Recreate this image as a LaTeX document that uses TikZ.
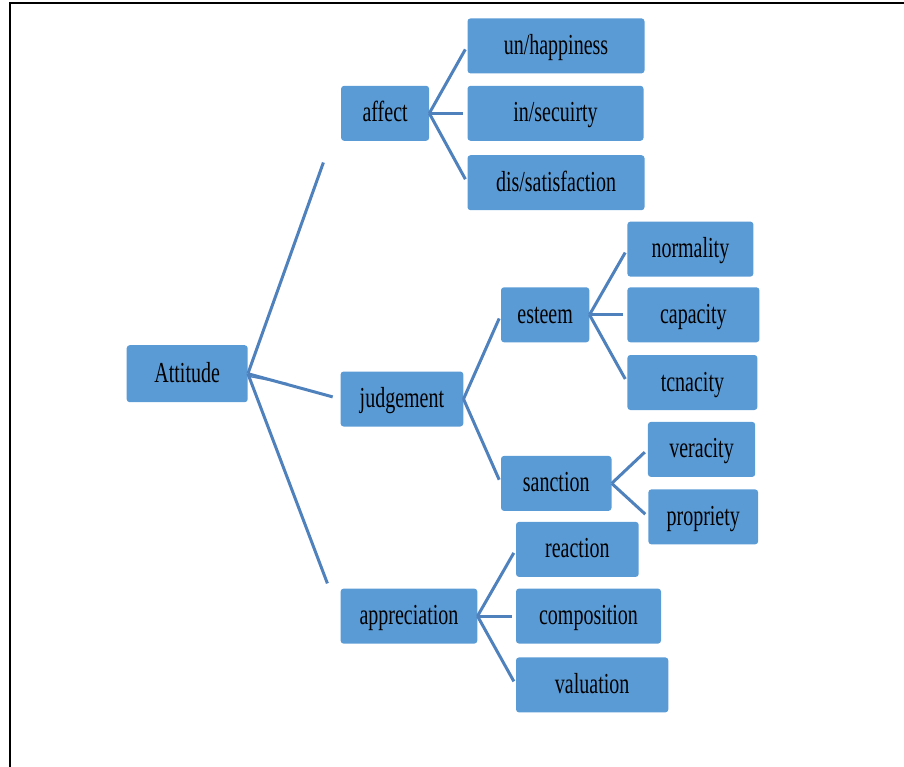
\documentclass[tikz,border=0pt]{standalone}
\usepackage{fontspec}
\setmainfont{Liberation Serif}
\usetikzlibrary{positioning}
\definecolor{boxblue}{HTML}{5B9BD5}
\definecolor{lineblue}{HTML}{4F81BD}
\newcommand{\tall}[1]{\scalebox{1}[1.45]{#1}}
\tikzset{
  box/.style={rectangle, rounded corners=3pt, fill=boxblue, minimum height=55pt, inner sep=0pt, text height=22pt, text depth=5pt, font=\fontsize{20}{24}\selectfont},
  link/.style={draw=lineblue, line width=3pt, shorten >=4pt},
  frame/.style={draw=black, line width=2.6pt},
}
\begin{document}
\begin{tikzpicture}[x=1pt, y=1pt]
        \useasboundingbox (0,0) rectangle (904,-767);
        \draw[frame] (904,-3) -- (10,-3) -- (10,-767);
        \node[box, minimum width=121pt, minimum height=57pt] (att) at (187.2,-373.7) {\tall{Attitude}};
        \node[box, minimum width=88pt, above right=204pt and 93pt of att] (affect) {\tall{affect}};
        \node[box, minimum width=122.7pt, right=92.5pt of att, yshift=-25.3pt] (judgement) {\tall{judgement}};
        \node[box, minimum width=136.7pt, below right=186pt and 92.5pt of att] (appreciation) {\tall{appreciation}};
        % affect
        \node[box, minimum width=177pt, above right=12pt and 38pt of affect] (unh) {\tall{un/happiness}};
        \node[box, minimum width=176pt, right=38pt of affect] (ins) {\tall{in/secuirty}};
        \node[box, minimum width=177pt, below right=14pt and 38pt of affect] (dis) {\tall{dis/satisfaction}};
        % judgement
        \node[box, minimum width=88.3pt, above right=28.8pt and 37.3pt of judgement] (esteem) {\tall{esteem}};
        \node[box, minimum width=110.5pt, below right=29pt and 37.3pt of judgement] (sanction) {\tall{sanction}};
        \node[box, minimum width=126pt, above right=10.3pt and 37.7pt of esteem] (normality) {\tall{normality}};
        \node[box, minimum width=132pt, right=37.7pt of esteem] (capacity) {\tall{capacity}};
        \node[box, minimum width=130pt, below right=12.3pt and 37.7pt of esteem] (tenacity) {\tall{tcnacity}};
        \node[box, minimum width=107.3pt, right=36pt of sanction, yshift=34pt] (veracity) {\tall{veracity}};
        \node[box, minimum width=109.7pt, right=36.5pt of sanction, yshift=-33.5pt] (propriety) {\tall{propriety}};
        % appreciation
        \node[box, minimum width=122.7pt, above right=11.3pt and 38.3pt of appreciation] (reaction) {\tall{reaction}};
        \node[box, minimum width=145pt, right=38.3pt of appreciation] (composition) {\tall{composition}};
        \node[box, minimum width=152.3pt, below right=13.4pt and 38.3pt of appreciation] (valuation) {\tall{valuation}};
        \coordinate (affend) at ([shift={(-17.5,-21.5)}]affect.south west);
        \coordinate (append) at ([shift={(-13,5)}]appreciation.north west);
        \coordinate (attdbl) at ([shift={(40,-10)}]att.east);
        \path[link]
        (att.east) edge[shorten >=0pt] (affend)
        (att.east) edge[shorten >=8pt] (judgement.west)
        (att.east) edge[shorten >=0pt] (append)
        ([yshift=-2.5pt]att.east) edge[line width=1.4pt, shorten >=0pt] (attdbl)
        (affect.east) edge (unh.west)
        (affect.east) edge (ins.west)
        (affect.east) edge (dis.west)
        (judgement.east) edge (esteem.west)
        (judgement.east) edge (sanction.west)
        (esteem.east) edge (normality.west)
        (esteem.east) edge (capacity.west)
        (esteem.east) edge (tenacity.west)
        (sanction.east) edge (veracity.west)
        (sanction.east) edge (propriety.west)
        (appreciation.east) edge (reaction.west)
        (appreciation.east) edge (composition.west)
        (appreciation.east) edge (valuation.west);
\end{tikzpicture}
\end{document}
